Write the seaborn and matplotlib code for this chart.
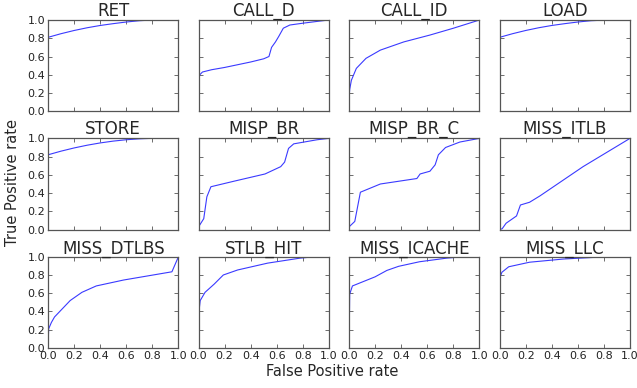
import matplotlib
matplotlib.use("Agg")
import matplotlib.pyplot as plt
import seaborn as sns
import pandas as pd

categories = ["RET", "CALL_D", "CALL_ID", "LOAD",
              "STORE", "MISP_BR", "MISP_BR_C", "MISS_ITLB",
              "MISS_DTLBS", "STLB_HIT", "MISS_ICACHE", "MISS_LLC"]

ret_fpr = [0, 0.1, 0.2, 0.3, 0.4, 0.5, 0.6, 0.7, 0.8, 1.0]
ret_tpr = [0.81, 0.85, 0.885, 0.915, 0.94, 0.96, 0.978, 0.992, 1.0, 1.0]

call_d_fpr = [0, 0.01, 0.03, 0.1, 0.2, 0.3, 0.4, 0.5, 0.54, 0.56, 0.59, 0.615, 0.65, 0.70, 0.8, 0.94, 1.0]
call_d_tpr = [0.34, 0.40, 0.43, 0.455, 0.48, 0.51, 0.54, 0.575, 0.60, 0.70, 0.76, 0.82, 0.91, 0.945, 0.965, 0.99, 1.0]

call_id_fpr = [0, 0.005, 0.018, 0.056, 0.13, 0.24, 0.42, 0.62, 0.8, 1.0]
call_id_tpr = [0.14, 0.24, 0.34, 0.47, 0.58, 0.67, 0.76, 0.835, 0.91, 1.0]

load_fpr = [0, 0.1, 0.2, 0.3, 0.4, 0.5, 0.6, 0.7, 0.82, 1.0]
load_tpr = [0.81, 0.85, 0.885, 0.915, 0.94, 0.96, 0.978, 0.992, 1.0, 1.0]

store_fpr = [0, 0.1, 0.2, 0.3, 0.4, 0.5, 0.6, 0.7, 0.79, 1.0]
store_tpr = [0.82, 0.86, 0.895, 0.925, 0.95, 0.97, 0.985, 0.995, 1.0, 1.0]

misp_br_fpr = [0, 0.04, 0.064, 0.095, 0.27, 0.51, 0.54, 0.63, 0.66, 0.69, 0.73, 0.91, 1.0]
misp_br_tpr = [0.03, 0.12, 0.36, 0.47, 0.53, 0.61, 0.63, 0.69, 0.74, 0.89, 0.94, 0.985, 1.0]

misp_br_c_fpr = [0, 0.044, 0.087, 0.24, 0.52, 0.545, 0.57, 0.62, 0.66, 0.685, 0.74, 0.85, 1.0]
misp_br_c_tpr = [0.03, 0.09, 0.41, 0.50, 0.56, 0.61, 0.62, 0.64, 0.71, 0.82, 0.90, 0.96, 1.0]

miss_itlb_fpr = [0, 0.02, 0.05, 0.13, 0.16, 0.23, 0.31, 0.64, 1.0]
miss_itlb_tpr = [0, 0.01, 0.07, 0.15, 0.27, 0.30, 0.37, 0.69, 1.0]

miss_dtlbs_fpr = [0, 0.005, 0.026, 0.05, 0.17, 0.26, 0.37, 0.58, 0.95, 1.0]
miss_dtlbs_tpr = [0, 0.21, 0.28, 0.34, 0.52, 0.61, 0.68, 0.745, 0.835, 1.0]

stlb_hit_fpr = [0, 0.013, 0.05, 0.12, 0.19, 0.30, 0.53, 0.78, 0.89, 1.0]
stlb_hit_tpr = [0.36, 0.52, 0.61, 0.70, 0.80, 0.855, 0.93, 0.985, 1.0, 1.0]

miss_icache_fpr = [0, 0.005, 0.026, 0.2, 0.29, 0.38, 0.54, 0.75, 0.88, 1.0]
miss_icache_tpr = [0, 0.59, 0.68, 0.78, 0.85, 0.895, 0.945, 0.985, 1.0, 1.0]

miss_llc_fpr = [0, 0.018, 0.07, 0.23, 0.49, 0.82, 1.0]
miss_llc_tpr = [0.76, 0.83, 0.89, 0.94, 0.975, 1.0, 1.0]

curves = {
    "RET": (ret_fpr, ret_tpr),
    "CALL_D": (call_d_fpr, call_d_tpr),
    "CALL_ID": (call_id_fpr, call_id_tpr),
    "LOAD": (load_fpr, load_tpr),
    "STORE": (store_fpr, store_tpr),
    "MISP_BR": (misp_br_fpr, misp_br_tpr),
    "MISP_BR_C": (misp_br_c_fpr, misp_br_c_tpr),
    "MISS_ITLB": (miss_itlb_fpr, miss_itlb_tpr),
    "MISS_DTLBS": (miss_dtlbs_fpr, miss_dtlbs_tpr),
    "STLB_HIT": (stlb_hit_fpr, stlb_hit_tpr),
    "MISS_ICACHE": (miss_icache_fpr, miss_icache_tpr),
    "MISS_LLC": (miss_llc_fpr, miss_llc_tpr),
}

ticks = [0.0, 0.2, 0.4, 0.6, 0.8, 1.0]
tick_labels = ["0.0", "0.2", "0.4", "0.6", "0.8", "1.0"]

rows = []
for c in categories:
    fx, ty = curves[c]
    for a, b in zip(fx, ty):
        rows.append({"category": c, "fpr": a, "tpr": b})
df = pd.DataFrame(rows)

sns.set_style("white")
plt.rcParams["font.family"] = ["DejaVu Sans"]

fig, axes = plt.subplots(3, 4, figsize=(6.37, 3.88), dpi=100, sharex=True, sharey=True)
fig.subplots_adjust(left=48/637, right=630/637, top=1-20/388, bottom=1-348/388,
                    wspace=0.154, hspace=0.297)

for ax, c in zip(axes.flat, categories):
    sub = df[df["category"] == c]
    sns.lineplot(data=sub, x="fpr", y="tpr", ax=ax, sort=False, estimator=None,
                 color="#3a3aff", linewidth=0.8)
    ax.set_xlim(0, 1)
    ax.set_ylim(0, 1)
    ax.set_xticks(ticks)
    ax.set_yticks(ticks)
    ax.set_xticklabels(tick_labels)
    ax.set_yticklabels(tick_labels)
    ax.set_title(c, fontsize=12, pad=2)
    ax.set_xlabel("")
    ax.set_ylabel("")
    ax.tick_params(direction="in", bottom=True, left=True, top=True, right=True,
                   length=3, width=0.6, labelsize=8, pad=2,
                   color="#555555", labelcolor="#222222")
    for s in ax.spines.values():
        s.set_color("#555555")
        s.set_linewidth(0.9)

for ax in axes.flat:
    ax.label_outer()

fig.text(332/637, 1-372/388, "False Positive rate", ha="center", va="center", fontsize=10.5)
fig.text(13/637, 1-183/388, "True Positive rate", ha="center", va="center",
         rotation=90, fontsize=10.5)

fig.savefig("out.png", dpi=100)
